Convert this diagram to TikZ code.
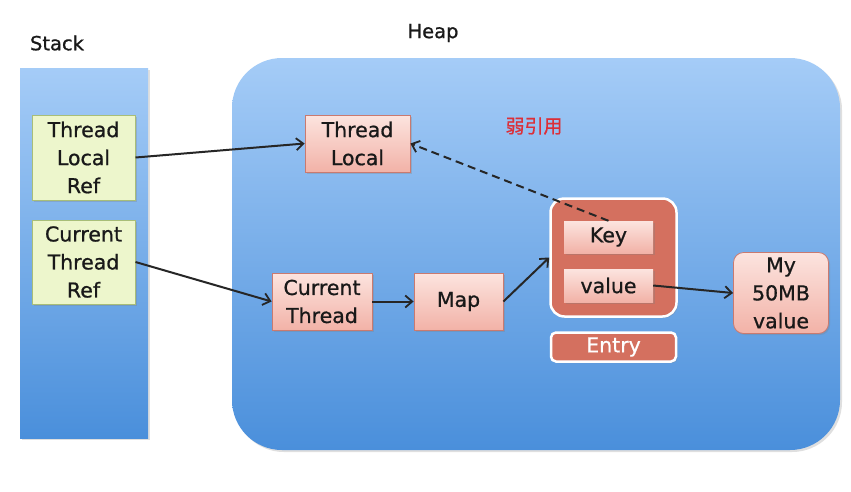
\documentclass[tikz,border=0pt]{standalone}
\usepackage{fontspec}
\setmainfont{DejaVu Sans}[FakeBold=0.8]
\newfontfamily\cjk{Noto Sans CJK SC}[FakeBold=0.6]
\usetikzlibrary{arrows.meta,shadows}
\definecolor{bluetop}{HTML}{A5CCF7}
\definecolor{bluebot}{HTML}{4A8FDB}
\definecolor{greenfill}{HTML}{EDF6CC}
\definecolor{greenedge}{HTML}{A8BE78}
\definecolor{pinktop}{HTML}{FCE4DF}
\definecolor{pinkbot}{HTML}{F2B2A7}
\definecolor{pinkedge}{HTML}{C97A70}
\definecolor{entryred}{HTML}{D4705F}
\definecolor{weakred}{HTML}{DC2F38}
\tikzset{
  txt/.style={font=\fontsize{20.5}{28}\selectfont, align=center, text=black!90, inner sep=0pt},
  bluebox/.style={top color=bluetop, bottom color=bluebot, draw=none,
    drop shadow={shadow xshift=2pt, shadow yshift=-2pt, opacity=0.25}},
  greenbox/.style={txt, fill=greenfill, draw=greenedge, line width=1pt,
    drop shadow={shadow xshift=1.5pt, shadow yshift=-1.5pt, opacity=0.3}},
  pinkbox/.style={txt, top color=pinktop, bottom color=pinkbot, draw=pinkedge, line width=0.8pt,
    drop shadow={shadow xshift=1.5pt, shadow yshift=-1.5pt, opacity=0.3}},
  innerbox/.style={txt, top color=pinktop, bottom color=pinkbot, draw=none,
    drop shadow={shadow xshift=1.5pt, shadow yshift=-1.5pt, opacity=0.3}},
  redbox/.style={fill=entryred, draw=white, line width=2.5pt,
    drop shadow={shadow xshift=1.5pt, shadow yshift=-1.5pt, opacity=0.3}},
  conn/.style={line width=2pt, draw=black!85, -{Straight Barb[length=7pt,width=12pt,line width=1.8pt]}},
  weak/.style={conn, dash pattern=on 8pt off 5pt},
  label/.style={font=\fontsize{19.5}{22}\selectfont, inner sep=0pt, text=black!90}
}
\begin{document}
\begin{tikzpicture}[x=1pt,y=-1pt]
\useasboundingbox (0,0) rectangle (851,491);
\fill[white] (0,0) rectangle (851,491);
% stack
\node[label] (stacklbl) at (57,43) {Stack};
\node[bluebox, minimum width=128pt, minimum height=370pt] (stack) at (84,253) {};
\node[greenbox, minimum width=103pt, minimum height=85pt] (tlref) at (83.5,157.5) {Thread\\Local\\Ref};
\node[greenbox, minimum width=103pt, minimum height=84pt] (ctref) at (83.5,262) {Current\\Thread\\Ref};
% heap
\node[label] (heaplbl) at (433,33) {Heap};
\node[bluebox, rounded corners=50pt, minimum width=608pt, minimum height=392pt] (heap) at (536,254) {};
\node[pinkbox, minimum width=105pt, minimum height=57pt] (tl) at (357.5,143.5) {Thread\\Local};
\node[font=\cjk\fontsize{19}{22}\selectfont, text=weakred, inner sep=0pt] (weaklbl) at (534,126) {弱引用};
\node[pinkbox, minimum width=100pt, minimum height=57pt] (ct) at (322,301.5) {Current\\Thread};
\node[pinkbox, minimum width=89pt, minimum height=57pt] (map) at (458.5,301.5) {Map};
\node[redbox, rounded corners=14pt, minimum width=126pt, minimum height=118pt] (entry) at (613.5,257.5) {};
\node[innerbox, minimum width=89pt, minimum height=32pt] (key) at (608.5,237) {Key};
\node[innerbox, minimum width=89pt, minimum height=33pt] (val) at (608.5,285.5) {value};
\node[redbox, rounded corners=5pt, minimum width=125pt, minimum height=29pt, txt, text=white] (entrylbl) at (613.5,347) {Entry};
\node[pinkbox, rounded corners=10pt, minimum width=95pt, minimum height=81pt] (big) at (781,293) {My\\50MB\\value};
% connectors
\draw[conn] (tlref.east) -- (tl.west);
\draw[conn] (ctref.east) -- (ct.west);
\draw[conn] (ct.east) -- (map.west);
\draw[conn] (map.east) -- (entry.west);
\draw[conn] (val.east) -- (big.west);
\draw[weak] (key.north) -- (tl.east);
\end{tikzpicture}
\end{document}
